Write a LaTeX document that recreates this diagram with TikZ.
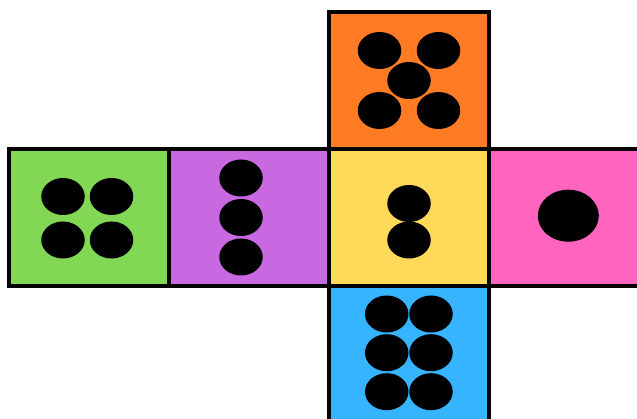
\documentclass[tikz,border=0pt]{standalone}
\usetikzlibrary{calc,shapes.geometric}

\definecolor{faceOrange}{RGB}{255,123,36}
\definecolor{faceGreen}{RGB}{130,215,85}
\definecolor{facePurple}{RGB}{200,105,225}
\definecolor{faceYellow}{RGB}{255,217,90}
\definecolor{facePink}{RGB}{255,100,190}
\definecolor{faceBlue}{RGB}{55,180,255}

\tikzset{
  face/.style={draw=black, line width=4pt, minimum width=160pt, minimum height=137pt, inner sep=0pt},
  pip/.style={ellipse, fill=black, inner sep=0pt, minimum width=43.5pt, minimum height=37pt},
  bigpip/.style={ellipse, fill=black, inner sep=0pt, minimum width=61pt, minimum height=52pt}
}

\begin{document}
\begin{tikzpicture}[x=1pt, y=-1pt]
    % --- Canvas ---
    \useasboundingbox (0,0) rectangle (637,419);

    % --- Faces of the net ---
    \node[face, fill=faceOrange] (top)    at (409,80.5)  {};
    \node[face, fill=faceGreen]  (left)   at (89,217.5)  {};
    \node[face, fill=facePurple] (back)   at (249,217.5) {};
    \node[face, fill=faceYellow] (front)  at (409,217.5) {};
    \node[face, fill=facePink]   (right)  at (569,217.5) {};
    \node[face, fill=faceBlue]   (bottom) at (409,354.5) {};

    % --- Five (top) ---
    \node[pip] (t1) at ($(top)+(-29.5,-30)$) {};
    \node[pip] (t2) at ($(top)+(29.5,-30)$)  {};
    \node[pip] (t3) at ($(top)+(0,0)$)       {};
    \node[pip] (t4) at ($(top)+(-29.5,30)$)  {};
    \node[pip] (t5) at ($(top)+(29.5,30)$)   {};

    % --- Four (left) ---
    \node[pip] (l1) at ($(left)+(-26,-21)$) {};
    \node[pip] (l2) at ($(left)+(22.5,-21)$) {};
    \node[pip] (l3) at ($(left)+(-26,22.5)$) {};
    \node[pip] (l4) at ($(left)+(22.5,22.5)$) {};

    % --- Three (back) ---
    \node[pip] (b1) at ($(back)+(-8,-39.5)$) {};
    \node[pip] (b2) at ($(back)+(-8,0)$)     {};
    \node[pip] (b3) at ($(back)+(-8,39.5)$)  {};

    % --- Two (front) ---
    \node[pip] (f1) at ($(front)+(0,-14)$)   {};
    \node[pip] (f2) at ($(front)+(0,22.5)$)  {};

    % --- One (right) ---
    \node[bigpip] (r1) at ($(right)+(-0.7,-1.8)$) {};

    % --- Six (bottom) ---
    \node[pip] (s1) at ($(bottom)+(-22.3,-40.5)$) {};
    \node[pip] (s2) at ($(bottom)+(22,-40.5)$)    {};
    \node[pip] (s3) at ($(bottom)+(-22.3,-1.8)$)  {};
    \node[pip] (s4) at ($(bottom)+(22,-1.8)$)     {};
    \node[pip] (s5) at ($(bottom)+(-22.3,37.2)$)  {};
    \node[pip] (s6) at ($(bottom)+(22,37.2)$)     {};
\end{tikzpicture}
\end{document}
